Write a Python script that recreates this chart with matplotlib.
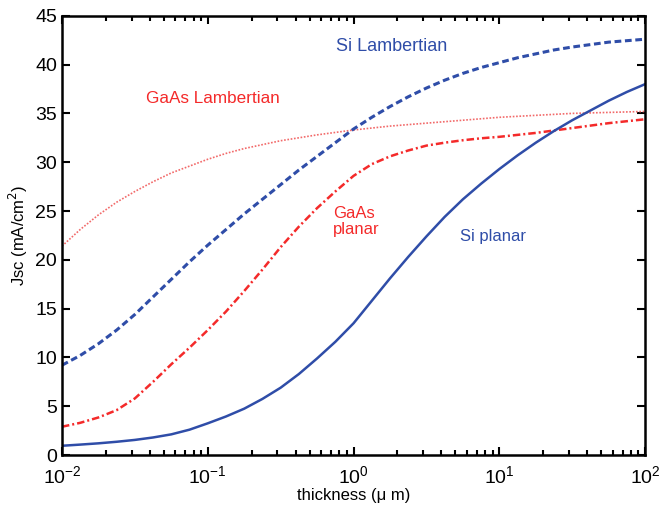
import numpy as np
import matplotlib
matplotlib.use('Agg')
import matplotlib.pyplot as plt
from matplotlib.ticker import LogLocator, NullFormatter

plt.rcParams['font.family'] = ['Liberation Sans', 'DejaVu Sans']

# thickness in um, eighth-decade sample points from 0.01 to 100
thickness = np.logspace(-2, 2, 33)

# Jsc values (mA/cm^2)
si_planar = [0.95, 1.07, 1.2, 1.36, 1.55, 1.8, 2.12, 2.6, 3.25, 3.95, 4.75,
             5.75, 6.9, 8.3, 9.9, 11.6, 13.5, 15.8, 18.1, 20.3, 22.4, 24.4,
             26.2, 27.8, 29.3, 30.7, 32.0, 33.2, 34.3, 35.3, 36.3, 37.2, 38.0]
gaas_planar = [2.9, 3.3, 3.85, 4.6, 5.8, 7.5, 9.3, 11.0, 12.8, 14.7, 16.8,
               19.0, 21.3, 23.4, 25.3, 27.0, 28.6, 29.8, 30.6, 31.2, 31.7,
               32.0, 32.25, 32.45, 32.6, 32.8, 33.0, 33.25, 33.5, 33.75,
               34.0, 34.2, 34.4]
si_lamb = [9.2, 10.2, 11.4, 12.8, 14.4, 16.2, 18.0, 19.8, 21.5, 23.1, 24.7,
           26.2, 27.7, 29.2, 30.6, 32.0, 33.4, 34.6, 35.7, 36.7, 37.6, 38.4,
           39.1, 39.7, 40.2, 40.7, 41.1, 41.5, 41.8, 42.05, 42.3, 42.45, 42.6]
gaas_lamb = [21.4, 23.1, 24.6, 25.9, 27.0, 28.0, 28.9, 29.6, 30.3, 30.9, 31.4,
             31.8, 32.2, 32.5, 32.8, 33.05, 33.3, 33.5, 33.7, 33.85, 34.0,
             34.15, 34.3, 34.45, 34.6, 34.7, 34.8, 34.9, 35.0, 35.05, 35.1,
             35.15, 35.2]

blue = '#2F4DA8'
red = '#F42A2A'

fig, ax = plt.subplots(figsize=(6.59, 5.09), dpi=100)
fig.subplots_adjust(left=0.094, right=0.979, top=0.969, bottom=0.106)

ax.plot(thickness, gaas_lamb, color='#F26A6A', lw=1.2, ls=(0, (1, 1)))
ax.plot(thickness, si_lamb, color=blue, lw=2.2, ls=(0, (2.2, 1.2)))
ax.plot(thickness, gaas_planar, color=red, lw=1.8, ls=(0, (3, 1.2, 0.8, 1.2)))
ax.plot(thickness, si_planar, color=blue, lw=1.8, ls='-')

ax.set_xscale('log')
ax.set_xlim(1e-2, 1e2)
ax.set_ylim(0, 45)
ax.set_yticks(range(0, 46, 5))
ax.xaxis.set_minor_locator(LogLocator(base=10, subs=np.arange(2, 10), numticks=20))
ax.xaxis.set_minor_formatter(NullFormatter())

ax.tick_params(which='both', direction='in', top=True, right=True,
               labelsize=14, width=1.5)
ax.tick_params(which='major', length=6)
ax.tick_params(which='minor', length=3.5)
ax.tick_params(axis='x', which='major', pad=7)
for s in ax.spines.values():
    s.set_linewidth(1.8)

ax.set_xlabel('thickness (\u03bc m)', fontsize=12, labelpad=1)
ax.set_ylabel('Jsc (mA/cm$^2$)', fontsize=12, labelpad=4)

ax.text(0.566, 0.929, 'Si Lambertian', color=blue, fontsize=13,
        ha='center', va='center', transform=ax.transAxes)
ax.text(0.259, 0.811, 'GaAs Lambertian', color=red, fontsize=12.3,
        ha='center', va='center', transform=ax.transAxes)
ax.text(0.465, 0.531, 'GaAs\nplanar', color=red, fontsize=12,
        ha='left', va='center', linespacing=1.05, transform=ax.transAxes)
ax.text(0.683, 0.497, 'Si planar', color=blue, fontsize=12,
        ha='left', va='center', transform=ax.transAxes)

fig.savefig('out.png', dpi=100)
